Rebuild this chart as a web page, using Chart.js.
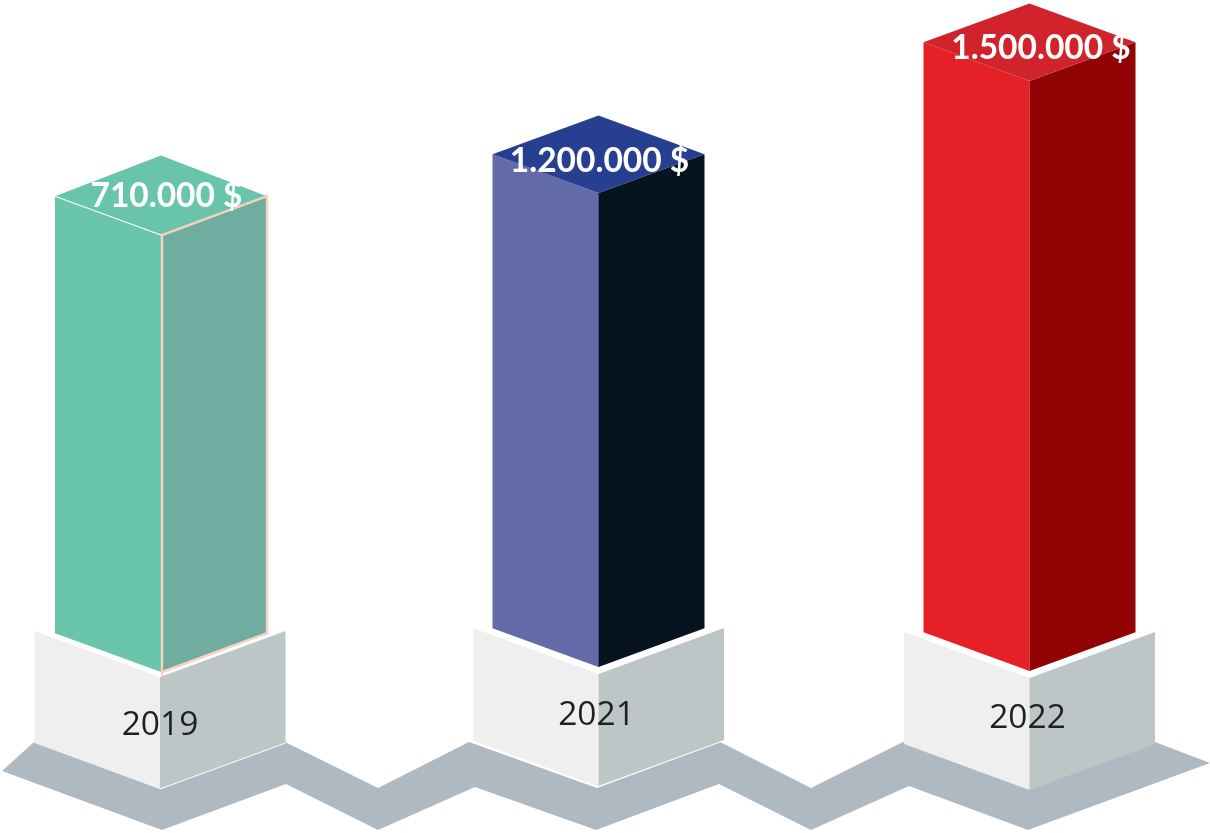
<!DOCTYPE html>
<html>
<head>
<meta charset="utf-8">
<title>Chart</title>
<script src="https://cdn.jsdelivr.net/npm/chart.js@4/dist/chart.umd.min.js"></script>
<style>
  html, body { margin: 0; background: #fff; }
  #wrap { width: 1210px; height: 833px; }
</style>
</head>
<body>
<div id="wrap"><canvas id="isoChart" width="1210" height="833"></canvas></div>
<script>
const years = ['2019', '2021', '2022'];
const valueLabels = ['710.000 $', '1.200.000 $', '1.500.000 $'];

// the picture is not drawn to scale, so column extents are read off it (axis units, 0 = bottom)
const columnSlots = [161, 598.5, 1029.5];
const columnBottoms = [161, 166, 162];
const columnTops = [598, 640, 752];
const plinthSlots = [160, 598.5, 1029.5];
const plinthBottoms = [44, 46.5, 43];
const plinthTops = [156, 159, 155];

const groundTopX = [2, 34, 160, 285, 378, 469, 597, 720, 811, 903, 1030, 1155, 1210];
const groundTopY = [62, 91, 44, 91, 45, 91, 45, 91, 45, 91, 44, 91, 70];
const groundBottomX = [2, 162, 286, 378, 475, 596, 719, 811, 909, 1028, 1210];
const groundBottomY = [62, 3, 49, 3, 46, 3, 49, 3, 47, 3, 70];

const leftColors = ['#6ac6aa', '#626aa8', '#e52027'];
const rightColors = ['#6fada0', '#07131f', '#910406'];
const topColors = ['#69c5aa', '#273f90', '#d1232b'];

const SLOPE = 0.366;
const apexExtra = [2, 0, 0];
const yearShift = [0, -2, -2];
const yearDrop = [58, 51, 50];
const labelShift = [5.5, 1, 11.5];
const labelRise = [28, 21.5, 22.5];

function face(ctx, pts, fill) {
  ctx.beginPath();
  pts.forEach((p, i) => i ? ctx.lineTo(p[0], p[1]) : ctx.moveTo(p[0], p[1]));
  ctx.closePath();
  ctx.fillStyle = fill;
  ctx.fill();
}

function edge(ctx, pts, color, width) {
  ctx.beginPath();
  pts.forEach((p, i) => i ? ctx.lineTo(p[0], p[1]) : ctx.moveTo(p[0], p[1]));
  ctx.strokeStyle = color;
  ctx.lineWidth = width;
  ctx.stroke();
}

const isoBars = {
  id: 'isoBars',
  afterDatasetsDraw(chart) {
    const ctx = chart.ctx;
    const plinths = chart.getDatasetMeta(2).data;
    const columns = chart.getDatasetMeta(3).data;

    ctx.save();
    plinths.forEach((b, i) => {
      const hw = b.width / 2, rise = hw * SLOPE;
      face(ctx, [[b.x - hw, b.y - rise], [b.x, b.y], [b.x, b.base], [b.x - hw, b.base - rise]], '#efefef');
      face(ctx, [[b.x, b.y], [b.x + hw, b.y - rise], [b.x + hw, b.base - rise], [b.x, b.base]], '#bdc6c6');
      if (i < 2) edge(ctx, [[b.x, b.base], [b.x + hw, b.base - rise]], '#ffffff', 1);
    });

    columns.forEach((b, i) => {
      const hw = b.width / 2, rise = hw * SLOPE;
      const l = b.x - hw, r = b.x + hw;
      face(ctx, [[l, b.y - rise], [b.x, b.y], [b.x, b.base], [l, b.base - rise]], leftColors[i]);
      face(ctx, [[b.x, b.y], [r, b.y - rise], [r, b.base - rise], [b.x, b.base]], rightColors[i]);
      face(ctx, [[b.x, b.y], [l, b.y - rise], [b.x, b.y - 2 * rise - apexExtra[i]], [r, b.y - rise]], topColors[i]);
      if (i === 0) {
        edge(ctx, [[l, b.y - rise], [b.x, b.y]], '#ffffff', 1.2);
        edge(ctx, [[b.x + 1, b.base + 4], [b.x + 1, b.y], [r, b.y - rise], [r, b.base - rise], [b.x + 1, b.base]], '#fbd0bd', 2.4);
      }
      if (i === 1) edge(ctx, [[b.x, b.y], [b.x, b.base]], '#3a4a9c', 1);
    });

    ctx.textAlign = 'center';
    ctx.textBaseline = 'alphabetic';
    ctx.fillStyle = '#231f20';
    ctx.font = '33.5px "Open Sans"';
    plinths.forEach((b, i) => ctx.fillText(years[i], b.x + yearShift[i], b.y + yearDrop[i]));

    ctx.fillStyle = '#ffffff';
    ctx.font = 'bold 33.5px Lato';
    columns.forEach((b, i) => ctx.fillText(valueLabels[i], b.x + labelShift[i], b.y - labelRise[i]));
    ctx.restore();
  }
};

const zip = (xs, ys) => xs.map((x, i) => ({ x: x, y: ys[i] }));

new Chart(document.getElementById('isoChart').getContext('2d'), {
  data: {
    datasets: [
      {
        type: 'line',
        data: zip(groundTopX, groundTopY),
        borderWidth: 0,
        pointRadius: 0,
        tension: 0,
        fill: '+1',
        backgroundColor: '#afb9c2'
      },
      {
        type: 'line',
        data: zip(groundBottomX, groundBottomY),
        borderWidth: 0,
        pointRadius: 0,
        tension: 0,
        fill: false,
        backgroundColor: '#afb9c2'
      },
      {
        type: 'bar',
        data: plinthSlots.map((x, i) => ({ x: x, y: [plinthBottoms[i], plinthTops[i]] })),
        backgroundColor: 'transparent',
        barThickness: 251,
        grouped: false
      },
      {
        type: 'bar',
        data: columnSlots.map((x, i) => ({ x: x, y: [columnBottoms[i], columnTops[i]] })),
        backgroundColor: 'transparent',
        barThickness: 212,
        grouped: false
      }
    ]
  },
  options: {
    responsive: false,
    animation: false,
    layout: { padding: 0 },
    plugins: { legend: { display: false }, tooltip: { enabled: false } },
    scales: {
      x: { type: 'linear', min: 0, max: 1210, offset: false, display: false },
      y: { type: 'linear', min: 0, max: 833, display: false }
    }
  },
  plugins: [isoBars]
});
</script>
</body>
</html>
